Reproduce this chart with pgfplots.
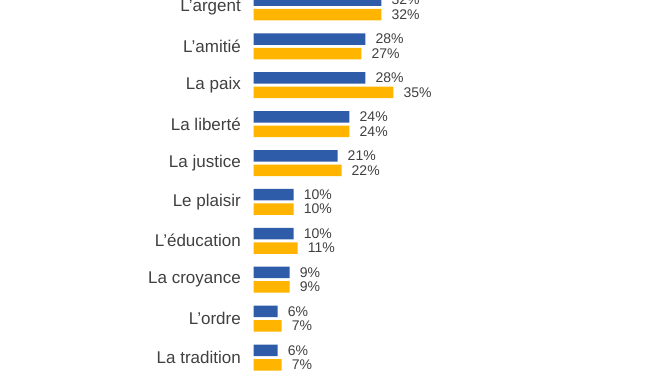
\documentclass[border=0pt]{standalone}
\usepackage{pgfplots}
\pgfplotsset{compat=1.18}
\usepackage{fontspec}
\setmainfont{Liberation Sans}
\definecolor{cblue}{RGB}{47,92,168}
\definecolor{cyellow}{RGB}{255,180,0}
\definecolor{ctext}{RGB}{64,64,64}
\begin{document}
\begin{tikzpicture}
\begin{axis}[
  at={(253.7bp,-376.95bp)}, anchor=south west,
  scale only axis,
  width=139.7bp, height=389bp,
  xmin=0, xmax=35,
  ymin=-0.5, ymax=9.5,
  y dir=reverse,
  xbar, bar width=11.5bp,
  axis line style={draw=none},
  xtick=\empty,
  ytick={0,...,9},
  yticklabels={L’argent,L’amitié,La paix,La liberté,La justice,Le plaisir,L’éducation,La croyance,L’ordre,La tradition},
  major tick length=0pt,
  yticklabel style={anchor=east, inner sep=0pt, xshift=-12.7bp, text=ctext, font=\fontsize{17bp}{20bp}\selectfont},
  clip=false,
  point meta=x,
  /pgf/number format/assume math mode=true,
  nodes near coords={\pgfmathprintnumber{\pgfplotspointmeta}\%},
  nodes near coords style={anchor=west, inner sep=0pt, xshift=10bp, text=ctext, font=\fontsize{14bp}{16bp}\selectfont},
]
\addplot[fill=cblue, draw=none, bar shift=7.25bp] coordinates {
(32,0) (28,1) (28,2) (24,3) (21,4) (10,5) (10,6) (9,7) (6,8) (6,9)};
\addplot[fill=cyellow, draw=none, bar shift=-7.25bp] coordinates {
(32,0) (27,1) (35,2) (24,3) (22,4) (10,5) (11,6) (9,7) (7,8) (7,9)};
\end{axis}
\pgfresetboundingbox
\path[use as bounding box] (0,0) rectangle (672bp,-372bp);
\end{tikzpicture}
\end{document}
